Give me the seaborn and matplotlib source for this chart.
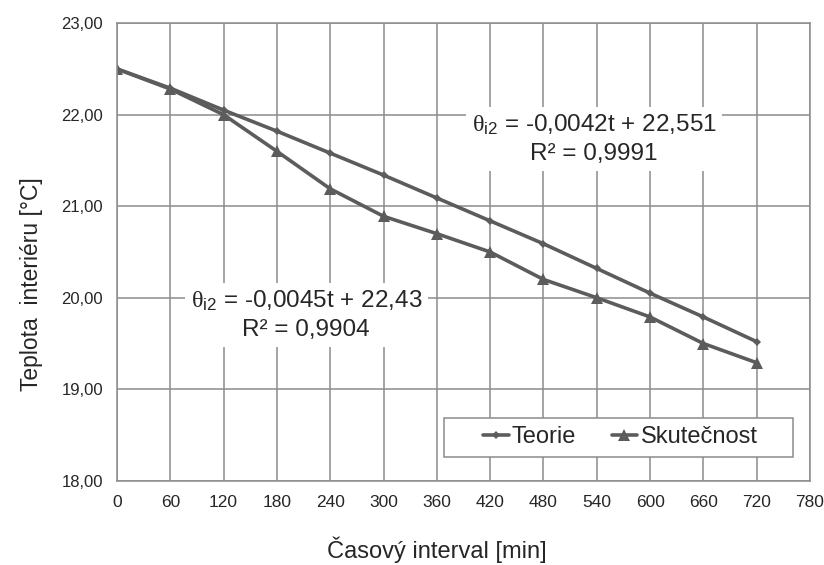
import matplotlib
matplotlib.use("Agg")
import matplotlib.pyplot as plt
import seaborn as sns
import pandas as pd
from matplotlib import font_manager as fm
from matplotlib.patches import Rectangle
from matplotlib.ticker import FuncFormatter

cas = [0, 60, 120, 180, 240, 300, 360, 420, 480, 540, 600, 660, 720]
teorie = [22.50, 22.29, 22.05, 21.82, 21.58, 21.34, 21.09, 20.84, 20.59, 20.32, 20.05, 19.79, 19.52]
skutecnost = [22.50, 22.28, 22.00, 21.60, 21.19, 20.89, 20.70, 20.50, 20.20, 20.00, 19.79, 19.50, 19.29]
x_ticks = list(range(0, 781, 60))
y_ticks = [18, 19, 20, 21, 22, 23]

names = {f.name for f in fm.fontManager.ttflist}
narrow = "Liberation Sans Narrow" if "Liberation Sans Narrow" in names else "Liberation Sans"

sns.set_style("white")
plt.rcParams["font.family"] = ["Liberation Sans", "DejaVu Sans"]
plt.rcParams["mathtext.fontset"] = "custom"
plt.rcParams["mathtext.rm"] = "Liberation Serif"
plt.rcParams["mathtext.sf"] = "Liberation Sans"
plt.rcParams["mathtext.it"] = "Liberation Serif:italic"

df = pd.DataFrame({"cas": cas * 2,
                   "teplota": teorie + skutecnost,
                   "serie": ["Teorie"] * len(cas) + ["Skutečnost"] * len(cas)})

fig = plt.figure(figsize=(8.24, 5.65), dpi=100)
ax = fig.add_axes([0.142, 0.149, 0.841, 0.810])

grey = "#5c5c5c"
sns.lineplot(data=df[df.serie == "Teorie"], x="cas", y="teplota", ax=ax,
             color=grey, marker="D", markersize=4.5, linewidth=2.6,
             markeredgewidth=0, label="Teorie")
sns.lineplot(data=df[df.serie == "Skutečnost"], x="cas", y="teplota", ax=ax,
             color=grey, marker="^", markersize=8, linewidth=2.6,
             markeredgewidth=0, label="Skutečnost")

ax.set_xlim(0, 780)
ax.set_ylim(18, 23)
ax.set_xticks(x_ticks)
ax.set_yticks(y_ticks)
ax.yaxis.set_major_formatter(FuncFormatter(lambda v, p: f"{v:.2f}".replace(".", ",")))
ax.grid(True, color="#8c8c8c", linewidth=1.1)
ax.set_axisbelow(True)
for s in ax.spines.values():
    s.set_color("#8c8c8c")
    s.set_linewidth(1.1)
ax.tick_params(axis="both", direction="out", length=6, width=1, color="#8c8c8c",
               labelsize=12, pad=4)
for lbl in ax.get_xticklabels():
    lbl.set_fontfamily(narrow)
    lbl.set_fontsize(12.5)
for lbl in ax.get_yticklabels():
    lbl.set_fontsize(12)

ax.set_xlabel("Časový interval [min]", fontsize=17, fontfamily=narrow)
ax.xaxis.set_label_coords(0.462, -0.122)
ax.set_ylabel("Teplota  interiéru [°C]", fontsize=16.5)
ax.yaxis.set_label_coords(-0.107, 0.43)

box = dict(facecolor="white", edgecolor="none", pad=4)
ax.text(537, 21.734, "$\\mathrm{θ}_{\\mathsf{i2}}$ = -0,0042t + 22,551\nR² = 0,9991",
        ha="center", va="center", fontsize=17.5, fontfamily=narrow,
        linespacing=1.36, bbox=box)
ax.text(213, 19.81, "$\\mathrm{θ}_{\\mathsf{i2}}$ = -0,0045t + 22,43\nR² = 0,9904",
        ha="center", va="center", fontsize=17.5, fontfamily=narrow,
        linespacing=1.36, bbox=box)

# legend frame drawn separately so it can be wider than its entries
ax.add_patch(Rectangle((0.4719, 0.0524), 0.5036, 0.0852, transform=ax.transAxes,
                       facecolor="white", edgecolor="#8c8c8c", linewidth=1.1,
                       zorder=4))
leg = ax.legend(loc="center", bbox_to_anchor=(0.726, 0.095), ncol=2,
                frameon=False, prop={"family": narrow, "size": 17},
                handlelength=1.1, handletextpad=0.13, columnspacing=1.5,
                borderpad=0, borderaxespad=0)
leg.set_zorder(5)

fig.savefig("out.png", dpi=100)
